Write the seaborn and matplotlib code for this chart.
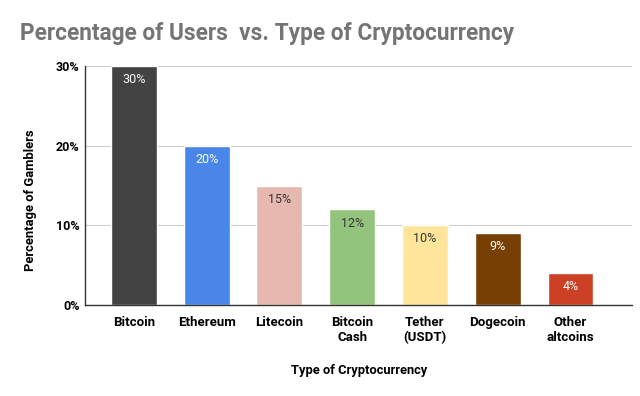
import matplotlib
matplotlib.use("Agg")
import matplotlib.pyplot as plt
import seaborn as sns
import pandas as pd

categories = ["Bitcoin", "Ethereum", "Litecoin", "Bitcoin\nCash", "Tether\n(USDT)", "Dogecoin", "Other\naltcoins"]
values = [30, 20, 15, 12, 10, 9, 4]
colors = ["#434343", "#4a86e8", "#e6b8af", "#93c47d", "#ffe599", "#783f04", "#cc4125"]
label_colors = ["white", "white", "#333333", "#333333", "#333333", "white", "white"]
yticks = [0, 10, 20, 30]
ytick_labels = ["0%", "10%", "20%", "30%"]

sns.set_theme(style="white")
plt.rcParams["font.family"] = ["Roboto", "DejaVu Sans"]

df = pd.DataFrame({"cat": categories, "val": values})

fig = plt.figure(figsize=(6.4, 3.96), dpi=100)
ax = fig.add_axes([0.133, 0.23, 0.855, 0.603])

sns.barplot(data=df, x="cat", y="val", hue="cat", palette=colors, legend=False,
            width=0.63, ax=ax, saturation=1)

ax.set_xlim(-0.67, 6.85)
ax.set_ylim(0, 30)
ax.set_yticks(yticks)
ax.set_yticklabels(ytick_labels, fontsize=9, fontweight="bold", color="black")
ax.tick_params(axis="x", labelsize=9.5, length=0, pad=8)
ax.tick_params(axis="y", length=0, pad=4)
for lbl in ax.get_xticklabels():
    lbl.set_fontweight("bold")
    lbl.set_color("black")

ax.yaxis.grid(True, color="#cccccc", linewidth=0.8)
ax.set_axisbelow(True)
for s in ["top", "right"]:
    ax.spines[s].set_visible(False)
ax.spines["left"].set_color("#333333")
ax.spines["left"].set_linewidth(1.0)
ax.spines["bottom"].set_color("#333333")
ax.spines["bottom"].set_linewidth(1.0)

for i, (v, c) in enumerate(zip(values, label_colors)):
    ax.text(i, v - 0.9, f"{v}%", ha="center", va="top", fontsize=9, color=c)

ax.set_xlabel("Type of Cryptocurrency", fontsize=9.3, fontweight="bold", color="black", labelpad=14)
ax.set_ylabel("Percentage of Gamblers", fontsize=9.4, fontweight="bold", color="black")
ax.yaxis.set_label_coords(-0.088, 0.44)

fig.text(0.031, 0.915, "Percentage of Users  vs. Type of Cryptocurrency", fontsize=16.3,
         fontweight="bold", color="#757575", ha="left", va="center")

fig.savefig("out.png", dpi=100, facecolor="white")
